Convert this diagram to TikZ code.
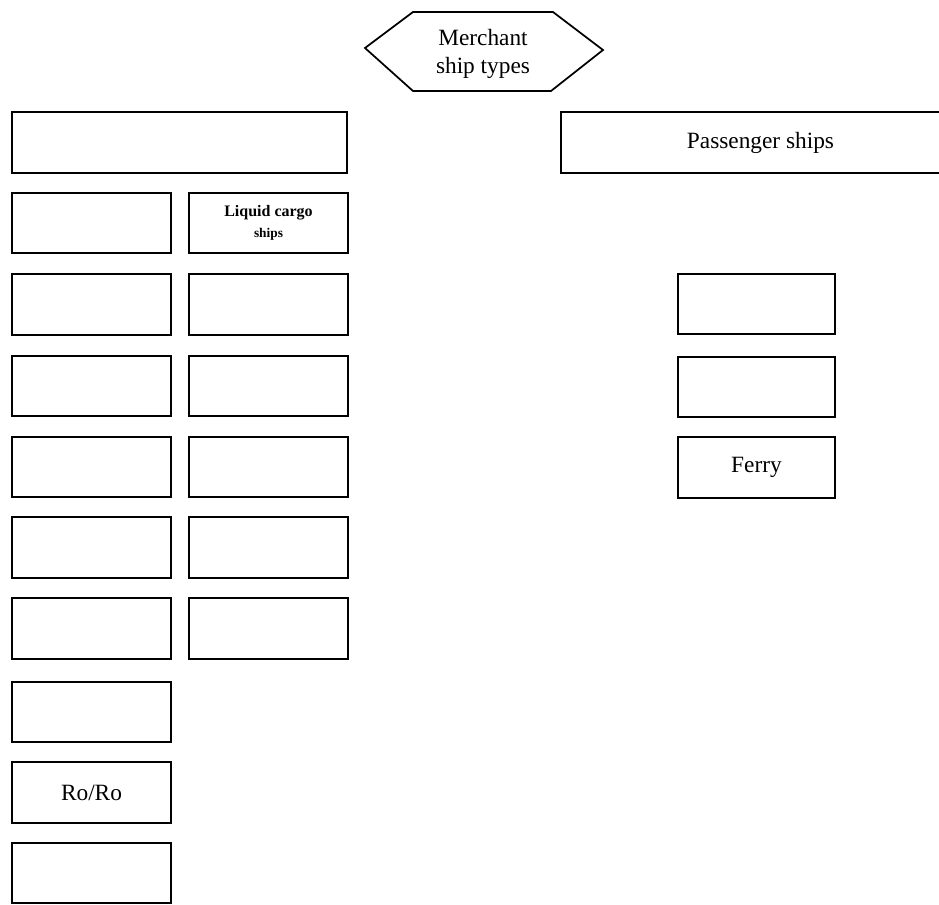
\documentclass[tikz,border=0pt]{standalone}
\usepackage{fontspec}
\setmainfont{Liberation Serif}
\begin{document}
\begin{tikzpicture}[x=0.75pt,y=-0.75pt,
  frame/.style={line width=1.3pt, line join=miter},
  cell/.style={draw, frame, rectangle, inner sep=0pt, minimum width=119.25pt, minimum height=45.5pt, font=\fontsize{17.5}{20}\selectfont},
  wide/.style={cell, minimum width=251.25pt},
  label/.style={font=\fontsize{17.5}{21}\selectfont, align=center, inner sep=0pt}]
\useasboundingbox (0,0) rectangle (939,904);
\clip (0,0) rectangle (939,904);
% root hexagon
\node[label] (root) at (483,54) {Merchant\\ship types};
\draw[frame] (365,48) -- (413,12) -- (553,12) -- (603,50) -- (551,91) -- (413,91) -- cycle;
% top level boxes
\node[wide] (cargo) at (179.5,142.5) {};
\node[cell, minimum width=299.25pt] (pass) at (760.5,142.5) {Passenger ships};
% left column
\node[cell] (l1) at (91.5,223) {};
\node[cell] (l2) at (91.5,304.5) {};
\node[cell] (l3) at (91.5,386) {};
\node[cell] (l4) at (91.5,467) {};
\node[cell] (l5) at (91.5,547.5) {};
\node[cell] (l6) at (91.5,628.5) {};
\node[cell] (l7) at (91.5,712) {};
\node[cell] (l8) at (91.5,792.5) {Ro/Ro};
\node[cell] (l9) at (91.5,873) {};
% second column
\node[cell, align=center] (r1) at (268.5,223) {{\fontsize{12}{13}\selectfont\bfseries Liquid cargo}\\[-4pt]{\fontsize{10}{11}\selectfont\bfseries ships}};
\node[cell] (r2) at (268.5,304.5) {};
\node[cell] (r3) at (268.5,386) {};
\node[cell] (r4) at (268.5,467) {};
\node[cell] (r5) at (268.5,547.5) {};
\node[cell] (r6) at (268.5,628.5) {};
% passenger column
\node[cell, minimum width=117.75pt] (p1) at (756.5,304) {};
\node[cell, minimum width=117.75pt] (p2) at (756.5,387) {};
\node[cell, minimum width=117.75pt] (p3) at (756.5,467.5) {Ferry};
\end{tikzpicture}
\end{document}
